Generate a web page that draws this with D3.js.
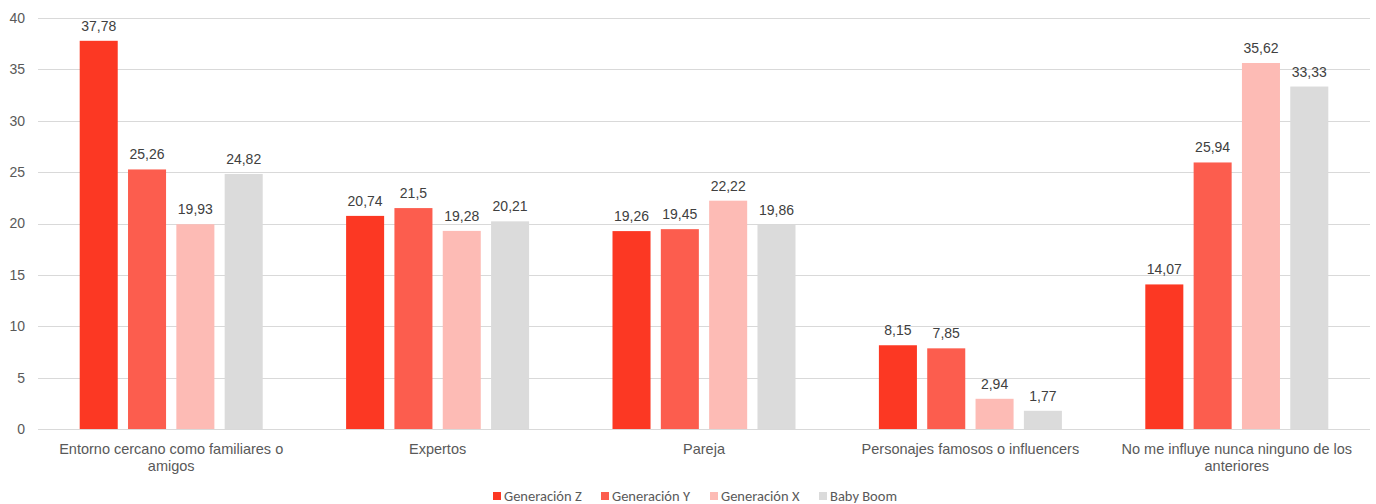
<!DOCTYPE html>
<html>
<head>
<meta charset="utf-8">
<script src="https://cdn.jsdelivr.net/npm/d3@7"></script>
<style>
  html, body { margin: 0; padding: 0; background: #fff; }
  svg { display: block; }
</style>
</head>
<body>
<svg id="chart" width="1376" height="504"></svg>
<script>
// Categories and series
const categories = [
  ["Entorno cercano como familiares o", "amigos"],
  ["Expertos"],
  ["Pareja"],
  ["Personajes famosos o influencers"],
  ["No me influye nunca ninguno de los", "anteriores"]
];
const seriesNames = ["Generación Z", "Generación Y", "Generación X", "Baby Boom"];
const genZ = [37.78, 20.74, 19.26, 8.15, 14.07];
const genY = [25.26, 21.5, 19.45, 7.85, 25.94];
const genX = [19.93, 19.28, 22.22, 2.94, 35.62];
const babyBoom = [24.82, 20.21, 19.86, 1.77, 33.33];
const yTicks = [0, 5, 10, 15, 20, 25, 30, 35, 40];

const seriesValues = [genZ, genY, genX, babyBoom];
const colors = ["#FC3823", "#FC5D4E", "#FDBBB5", "#DBDBDB"];

const svg = d3.select("#chart");
const margin = { left: 38, right: 6, top: 18, bottom: 75 };
const W = 1376, H = 504;

const x0 = d3.scaleBand()
  .domain(d3.range(categories.length))
  .range([margin.left, W - margin.right])
  .paddingInner(0).paddingOuter(0);

const groupW = 183;
const x1 = d3.scaleBand()
  .domain(d3.range(seriesNames.length))
  .range([(x0.bandwidth() - groupW) / 2, (x0.bandwidth() + groupW) / 2])
  .paddingInner(0.213).paddingOuter(0);

const y = d3.scaleLinear().domain([0, 40]).range([429, 18]);

// Gridlines
svg.append("g")
  .selectAll("line")
  .data(yTicks)
  .join("line")
  .attr("x1", margin.left).attr("x2", W - margin.right)
  .attr("y1", d => Math.round(y(d)) + 0.5).attr("y2", d => Math.round(y(d)) + 0.5)
  .attr("stroke", "#D9D9D9").attr("stroke-width", 1);

// Y axis labels
const yAxis = d3.axisLeft(y).tickValues(yTicks).tickSize(0).tickPadding(0)
  .tickFormat(d3.format("d"));
const gy = svg.append("g").attr("transform", "translate(25,0)").call(yAxis);
gy.select(".domain").remove();
gy.selectAll("text")
  .attr("font-family", "'Liberation Sans', Arial, sans-serif")
  .attr("font-size", 14).attr("fill", "#595959");

// Bars and value labels
const groups = svg.append("g").selectAll("g")
  .data(categories.map((c, i) => i))
  .join("g")
  .attr("transform", i => `translate(${x0(i)},0)`);

groups.selectAll("rect")
  .data(i => seriesValues.map((s, k) => ({ k, v: s[i] })))
  .join("rect")
  .attr("x", d => x1(d.k))
  .attr("width", x1.bandwidth())
  .attr("y", d => y(d.v))
  .attr("height", d => y(0) - y(d.v))
  .attr("fill", d => colors[d.k]);

const fmt = v => String(v).replace(".", ",");
groups.selectAll("text.val")
  .data(i => seriesValues.map((s, k) => ({ k, v: s[i] })))
  .join("text")
  .attr("class", "val")
  .attr("x", d => x1(d.k) + x1.bandwidth() / 2)
  .attr("y", d => y(d.v) - 10)
  .attr("text-anchor", "middle")
  .attr("font-family", "'Liberation Sans', Arial, sans-serif")
  .attr("font-size", 14).attr("fill", "#404040")
  .text(d => fmt(d.v));

// Category labels
const gx = svg.append("g");
categories.forEach((lines, i) => {
  const t = gx.append("text")
    .attr("x", x0(i) + x0.bandwidth() / 2)
    .attr("y", 454)
    .attr("text-anchor", "middle")
    .attr("font-family", "'Liberation Sans', Arial, sans-serif")
    .attr("font-size", 14.5).attr("fill", "#595959");
  lines.forEach((ln, j) => {
    t.append("tspan").attr("x", x0(i) + x0.bandwidth() / 2)
      .attr("dy", j === 0 ? 0 : 17).text(ln);
  });
});

// Legend
const legendX = [493, 601, 710, 819];
const lg = svg.append("g");
seriesNames.forEach((n, k) => {
  lg.append("rect").attr("x", legendX[k]).attr("y", 492).attr("width", 8).attr("height", 8)
    .attr("fill", colors[k]);
  lg.append("text").attr("x", legendX[k] + 11).attr("y", 501)
    .attr("font-family", "Carlito, Calibri, Lato, sans-serif")
    .attr("font-size", 14.5).attr("fill", "#595959").text(n);
});
</script>
</body>
</html>
